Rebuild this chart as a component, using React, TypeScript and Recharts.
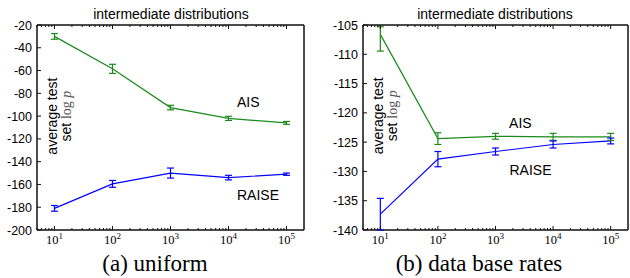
import { LineChart, Line, XAxis, YAxis } from 'recharts';

// number of intermediate distributions
const steps = [10, 100, 1000, 10000, 100000];

// (a) uniform base distribution
const aisUniform = [-30, -58.5, -92.5, -102, -106];
const aisUniformErr = [2.5, 4, 2, 1.8, 1.3];
const raiseUniform = [-181, -159.5, -150, -154, -151];
const raiseUniformErr = [2.5, 3, 4.4, 2, 1];

// (b) data base rates
const aisBase = [-106.6, -124.4, -124.0, -124.1, -124.1];
const aisBaseErr: [number, number][] = [[2.85, 1.3], [1, 1], [0.5, 0.5], [0.6, 0.6], [0.6, 0.6]];
const raiseBase = [-137.3, -127.9, -126.6, -125.4, -124.8];
const raiseBaseErr = [2.7, 1.3, 0.6, 0.6, 0.5];

const uniformTicks = [-200, -180, -160, -140, -120, -100, -80, -60, -40, -20];
const baseTicks = [-140, -135, -130, -125, -120, -115, -110, -105];

const xDomain: [number, number] = [5, 200000];
const majorX = [10, 100, 1000, 10000, 100000];
const minorX = [
  5, 6, 7, 8, 9,
  20, 30, 40, 50, 60, 70, 80, 90,
  200, 300, 400, 500, 600, 700, 800, 900,
  2000, 3000, 4000, 5000, 6000, 7000, 8000, 9000,
  20000, 30000, 40000, 50000, 60000, 70000, 80000, 90000,
];
const allX = [...minorX, ...majorX].sort((a, b) => a - b);

const SANS = '"Liberation Sans", Arial, sans-serif';
const SERIF = '"Liberation Serif", "Times New Roman", serif';
const GREEN = '#1a8a1a';
const BLUE = '#0000ff';
const INK = '#111';

if (typeof document !== 'undefined') document.body.style.margin = '0';

function isMajor(v: number) {
  return majorX.includes(v);
}

function BottomTick(props: any) {
  const { x, y, payload } = props;
  const major = isMajor(payload.value);
  const exp = Math.round(Math.log10(payload.value));
  return (
    <g>
      <line x1={x} x2={x} y1={y} y2={y - (major ? 4 : 2)} stroke={INK} strokeWidth={1} />
      {major && (
        <text x={x} y={y + 14} textAnchor="middle" fontFamily={SERIF} fontSize={12.5} fill="#000">
          10<tspan dy={-5} fontSize={9}>{exp}</tspan>
        </text>
      )}
    </g>
  );
}

function TopTick(props: any) {
  const { x, y, payload } = props;
  const major = isMajor(payload.value);
  return <line x1={x} x2={x} y1={y} y2={y + (major ? 4 : 2)} stroke={INK} strokeWidth={1} />;
}

function LeftTick(props: any) {
  const { x, y, payload } = props;
  return (
    <g>
      <line x1={x} x2={x + 4} y1={y} y2={y} stroke={INK} strokeWidth={1} />
      <text x={x - 5} y={y} dy="0.36em" textAnchor="end" fontFamily={SANS} fontSize={12.5} fill="#000">
        {payload.value}
      </text>
    </g>
  );
}

function RightTick(props: any) {
  const { x, y } = props;
  return <line x1={x - 4} x2={x} y1={y} y2={y} stroke={INK} strokeWidth={1} />;
}

// rotated two-line y label, anchored at a point inside the plot
function yLabelDot(p: any) {
  const cy = p.cy;
  const x1 = p.cx;
  const x2 = p.cx + 14;
  return (
    <g key="ylabel">
      <text x={x1} y={cy} transform={`rotate(-90 ${x1} ${cy})`} textAnchor="middle" fontFamily={SANS} fontSize={14} fill="#000">
        average test
      </text>
      <text x={x2} y={cy} transform={`rotate(-90 ${x2} ${cy})`} textAnchor="middle" fontFamily={SANS} fontSize={14} fill="#000">
        set <tspan fontFamily={SERIF} fill="#555">log </tspan>
        <tspan fontFamily={SERIF} fontStyle="italic" fill="#555">p</tspan>
      </text>
    </g>
  );
}

// horizontal cap at both ends of an error bar segment
function capDot(color: string) {
  return (p: any) => (
    <line key={`${p.cx}-${p.cy}`} x1={p.cx - 3.5} x2={p.cx + 3.5} y1={p.cy} y2={p.cy} stroke={color} strokeWidth={1.2} />
  );
}

function textDot(label: string) {
  return (p: any) => (
    <text key={label} x={p.cx} y={p.cy} fontFamily={SANS} fontSize={14} fill="#000">
      {label}
    </text>
  );
}

function errSegments(values: number[], errs: (number | [number, number])[]) {
  return steps.map((s, i) => {
    const e = errs[i];
    const [lo, hi] = Array.isArray(e) ? e : [e, e];
    return [
      { steps: s, v: values[i] - lo },
      { steps: s, v: values[i] + hi },
    ];
  });
}

type PanelProps = {
  caption: string;
  captionX: number;
  titleX: number;
  yWidth: number;
  rightMargin: number;
  ais: number[];
  aisErr: (number | [number, number])[];
  raise: number[];
  raiseErr: (number | [number, number])[];
  yDomain: [number, number];
  yTicks: number[];
  aisLabel: [number, number];
  raiseLabel: [number, number];
  yLabelAt: [number, number];
};

function Panel(p: PanelProps) {
  const data = steps.map((s, i) => ({ steps: s, ais: p.ais[i], raise: p.raise[i] }));
  const aisBars = errSegments(p.ais, p.aisErr);
  const raiseBars = errSegments(p.raise, p.raiseErr);
  const [x0, x1] = xDomain;
  const [y0, y1] = p.yDomain;
  const frame = [
    { steps: x0, v: y0 },
    { steps: x0, v: y1 },
    { steps: x1, v: y1 },
    { steps: x1, v: y0 },
    { steps: x0, v: y0 },
  ];
  return (
    <div style={{ width: 315, height: 278 }}>
      <div
        style={{
          height: 14,
          lineHeight: '14px',
          position: 'relative',
          top: 7,
          left: p.titleX - 157.5,
          width: 315,
          textAlign: 'center',
          fontFamily: SANS,
          fontSize: 14,
        }}
      >
        intermediate distributions
      </div>
      <LineChart width={315} height={236} data={data} margin={{ top: 10, right: p.rightMargin - 1, left: 0, bottom: 0 }}>
        <XAxis
          dataKey="steps"
          type="number"
          scale="log"
          domain={xDomain}
          ticks={allX}
          interval={0}
          tickSize={0}
          tickMargin={0}
          height={20}
          axisLine={{ stroke: INK }}
          tick={<BottomTick />}
        />
        <XAxis
          xAxisId="top"
          orientation="top"
          dataKey="steps"
          type="number"
          scale="log"
          domain={xDomain}
          ticks={allX}
          interval={0}
          tickSize={0}
          tickMargin={0}
          height={1}
          axisLine={{ stroke: INK }}
          tick={<TopTick />}
        />
        <YAxis
          type="number"
          domain={p.yDomain}
          ticks={p.yTicks}
          interval={0}
          width={p.yWidth}
          tickSize={0}
          tickMargin={0}
          axisLine={{ stroke: INK }}
          tick={<LeftTick />}
        />
        <YAxis
          yAxisId="right"
          orientation="right"
          type="number"
          domain={p.yDomain}
          ticks={p.yTicks}
          interval={0}
          width={1}
          tickSize={0}
          tickMargin={0}
          axisLine={{ stroke: INK }}
          tick={<RightTick />}
        />
        <Line data={frame} dataKey="v" stroke={INK} strokeWidth={1} dot={false} isAnimationActive={false} />
        <Line dataKey="ais" stroke={GREEN} strokeWidth={1.2} dot={false} isAnimationActive={false} />
        <Line dataKey="raise" stroke={BLUE} strokeWidth={1.2} dot={false} isAnimationActive={false} />
        {aisBars.map((seg, i) => (
          <Line key={`ae${i}`} data={seg} dataKey="v" stroke={GREEN} strokeWidth={1.2} dot={capDot(GREEN)} isAnimationActive={false} />
        ))}
        {raiseBars.map((seg, i) => (
          <Line key={`re${i}`} data={seg} dataKey="v" stroke={BLUE} strokeWidth={1.2} dot={capDot(BLUE)} isAnimationActive={false} />
        ))}
        <Line
          data={[{ steps: p.aisLabel[0], v: p.aisLabel[1] }]}
          dataKey="v"
          stroke="none"
          dot={textDot('AIS')}
          isAnimationActive={false}
        />
        <Line
          data={[{ steps: p.raiseLabel[0], v: p.raiseLabel[1] }]}
          dataKey="v"
          stroke="none"
          dot={textDot('RAISE')}
          isAnimationActive={false}
        />
        <Line
          data={[{ steps: p.yLabelAt[0], v: p.yLabelAt[1] }]}
          dataKey="v"
          stroke="none"
          dot={yLabelDot}
          isAnimationActive={false}
        />
      </LineChart>
      <div
        style={{
          height: 28,
          lineHeight: '28px',
          position: 'relative',
          left: p.captionX - 157.5,
          width: 315,
          textAlign: 'center',
          fontFamily: SERIF,
          fontSize: 23,
        }}
      >
        {p.caption}
      </div>
    </div>
  );
}

export default function App() {
  return (
    <div style={{ display: 'flex', width: 630, height: 278, background: '#fff' }}>
      <Panel
        caption="(a) uniform"
        captionX={155}
        titleX={171}
        yWidth={37}
        rightMargin={11}
        ais={aisUniform}
        aisErr={aisUniformErr}
        raise={raiseUniform}
        raiseErr={raiseUniformErr}
        yDomain={[-200, -20]}
        yTicks={uniformTicks}
        aisLabel={[14000, -92]}
        raiseLabel={[14000, -173.7]}
        yLabelAt={[11.1, -100]}
      />
      <Panel
        caption="(b) data base rates"
        captionX={164}
        titleX={180}
        yWidth={48}
        rightMargin={2}
        ais={aisBase}
        aisErr={aisBaseErr}
        raise={raiseBase}
        raiseErr={raiseBaseErr}
        yDomain={[-140, -105]}
        yTicks={baseTicks}
        aisLabel={[1720, -122.5]}
        raiseLabel={[1750, -130.6]}
        yLabelAt={[11.1, -120.5]}
      />
    </div>
  );
}
